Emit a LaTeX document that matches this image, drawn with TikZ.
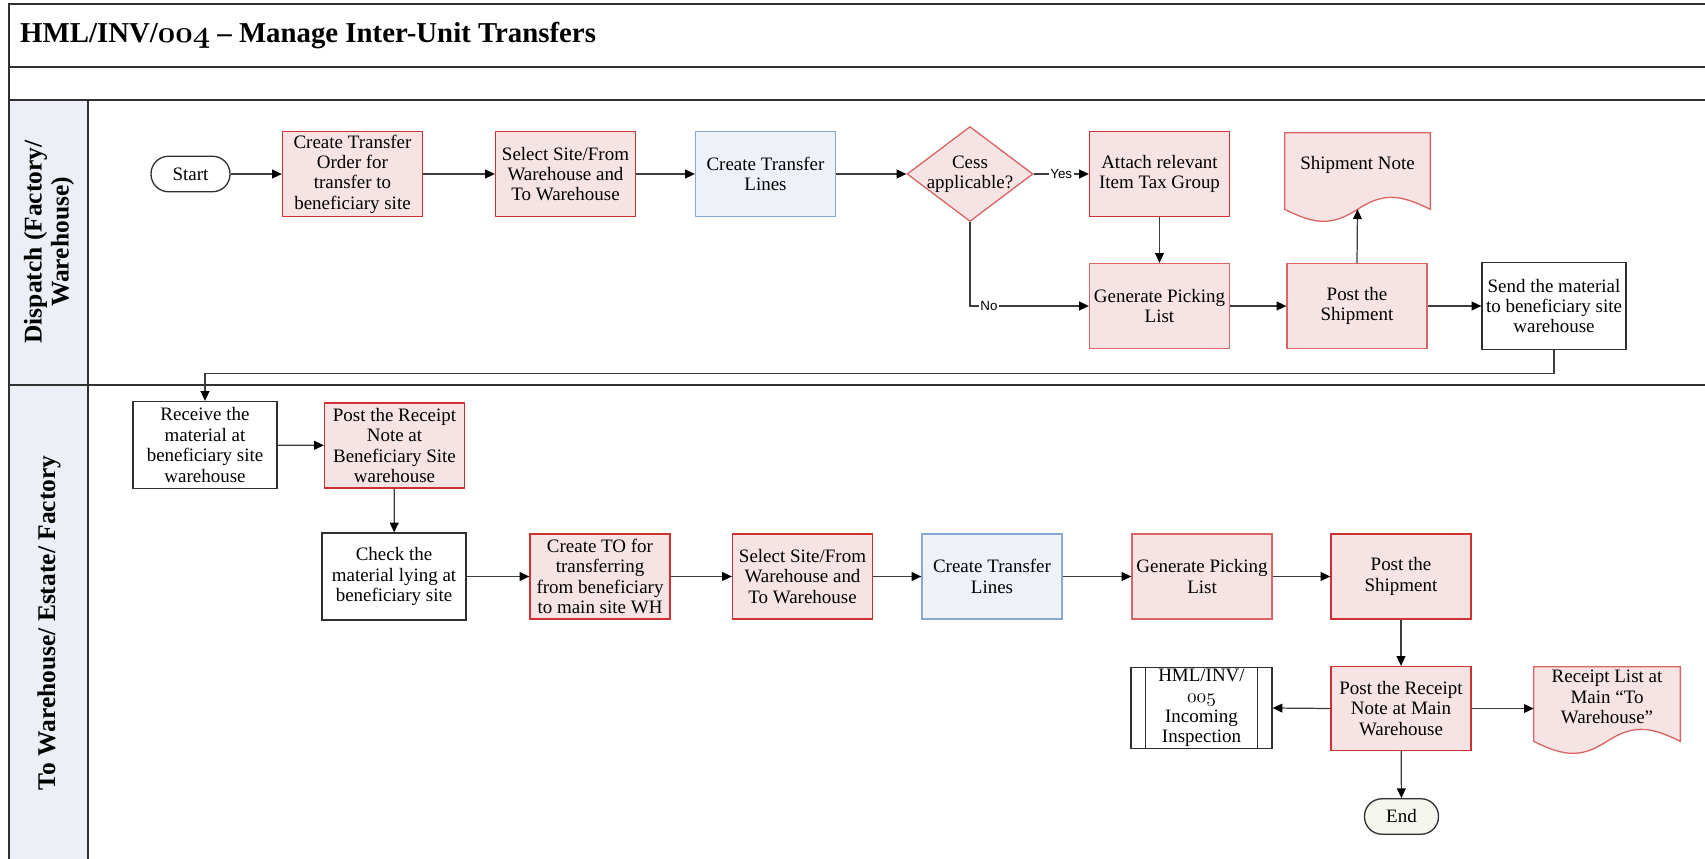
\documentclass[tikz,border=0pt]{standalone}
\usepackage{fontspec}
\setmainfont{Liberation Serif}
\newfontfamily\labelsans{Liberation Sans}
\usetikzlibrary{arrows.meta,shapes.geometric,calc,backgrounds}

% old-style figures for the document codes
\newcommand\osn[1]{{\usefont{OML}{cmm}{m}{it}#1}}
\newcommand\osnb[1]{{\usefont{OML}{cmm}{b}{it}#1}}

\definecolor{rdark}{HTML}{CF3030}
\definecolor{rsoft}{HTML}{D96565}
\definecolor{rfill}{HTML}{F6E4E4}
\definecolor{bdraw}{HTML}{86A8D4}
\definecolor{bfill}{HTML}{EEF2F8}
\definecolor{lanefill}{HTML}{ECEFF5}
\definecolor{framecol}{HTML}{303030}
\definecolor{linecol}{HTML}{3C3C3C}
\definecolor{endfill}{HTML}{F5F6EE}

\begin{document}
\begin{tikzpicture}[x=0.02cm,y=-0.02cm,
  nodefont/.style={font=\fontsize{10.8}{11.6}\selectfont},
  base/.style={nodefont, align=center, inner sep=0pt, line width=0.75pt},
  redbox/.style={base, draw=rdark, fill=rfill, minimum width=2.8cm, minimum height=1.7cm},
  redsoft/.style={redbox, draw=rsoft},
  bluebox/.style={base, draw=bdraw, fill=bfill, minimum width=2.8cm, minimum height=1.7cm},
  plainbox/.style={base, draw=framecol, fill=white, minimum width=2.88cm, minimum height=1.74cm},
  terminal/.style={base, draw=framecol, rounded corners=0.35cm, minimum height=0.71cm},
  decision/.style={diamond, draw=rsoft, fill=rfill, line width=0.75pt, inner sep=0pt,
                   minimum width=2.52cm, minimum height=1.9cm},
  docnode/.style={inner sep=0pt, draw=none},
  docline/.style={draw=rsoft, fill=rfill, line width=0.75pt},
  subproc/.style={base, draw=framecol, fill=white, minimum width=2.82cm, minimum height=1.62cm},
  frame/.style={draw=framecol, line width=1pt},
  arr/.style={draw=linecol, line width=0.7pt, -{Triangle[length=5.5pt,width=5pt,color=black]}},
  flowlabel/.style={font=\labelsans\fontsize{7.6}{8}\selectfont, fill=white, inner sep=1pt},
  lanefont/.style={font=\fontsize{14.5}{15.3}\selectfont\bfseries, align=center, rotate=90}
]
\useasboundingbox (0,0) rectangle (1705,859);

% swimlane frame
\fill[lanefill] (9,100) rectangle (88,859);
\draw[frame] (1705,4) -- (9,4) -- (9,859);
\draw[frame] (9,67) -- (1705,67);
\draw[frame] (9,100) -- (1705,100);
\draw[frame] (9,385) -- (1705,385);
\draw[frame] (88,100) -- (88,859);

\node[anchor=west, font=\fontsize{16.4}{20}\selectfont\bfseries] (title) at (14,36)
  {HML/INV/\osnb{004} -- Manage Inter-Unit Transfers};

\node[lanefont] (lane1) at (49,242) {Dispatch (Factory/\\Warehouse)};
\node[lanefont] (lane2) at (49,623) {To Warehouse/ Estate/ Factory};

% dispatch lane
\node[terminal, fill=white, minimum width=1.58cm] (start) at (190.5,174) {Start};
\node[redbox] (cto) at (352.5,174) {Create Transfer\\Order for\\transfer to\\beneficiary site};
\node[redbox] (sel1) at (565.5,174) {Select Site/From\\Warehouse and\\To Warehouse};
\node[bluebox] (ctl1) at (765.5,174) {Create Transfer\\Lines};
\node[decision, label={[nodefont, align=center]center:Cess\\applicable?}] (cess) at (970,174) {};
\node[redbox] (att) at (1159.5,174) {Attach relevant\\Item Tax Group};
\node[redsoft] (gpl1) at (1159.5,306) {Generate Picking\\List};
\node[redsoft] (ps1) at (1357,306) {Post the\\Shipment};
\node[docnode, minimum width=2.9cm, minimum height=1.52cm,
      label={[nodefont, yshift=0.12cm]center:Shipment Note}] (sn) at (1357.5,171) {};
\node[plainbox] (send) at (1554,306) {Send the material\\to beneficiary site\\warehouse};

% receiving lane
\node[plainbox] (recv) at (205,445) {Receive the\\material at\\beneficiary site\\warehouse};
\node[redbox] (prb) at (394.5,445.5) {Post the Receipt\\Note at\\Beneficiary Site\\warehouse};
\node[plainbox] (chk) at (394,576.5) {Check the\\material lying at\\beneficiary site};
\node[redbox] (cto2) at (600,576.5) {Create TO for\\transferring\\from beneficiary\\to main site WH};
\node[redbox] (sel2) at (802.5,576.5) {Select Site/From\\Warehouse and\\To Warehouse};
\node[bluebox] (ctl2) at (992,576.5) {Create Transfer\\Lines};
\node[redsoft] (gpl2) at (1202,576.5) {Generate Picking\\List};
\node[redbox] (ps2) at (1401,576.5) {Post the\\Shipment};
\node[redbox, minimum height=1.68cm] (prm) at (1401,708.5) {Post the Receipt\\Note at Main\\Warehouse};
\node[subproc] (sub) at (1201.5,708) {HML/INV/\\\osn{005}\\Incoming\\Inspection};
\draw[framecol, line width=0.75pt] ([xshift=0.3cm]sub.north west) -- ([xshift=0.3cm]sub.south west);
\draw[framecol, line width=0.75pt] ([xshift=-0.3cm]sub.north east) -- ([xshift=-0.3cm]sub.south east);
\node[docnode, minimum width=2.92cm, minimum height=1.48cm,
      label={[nodefont, align=center, yshift=0.14cm]center:Receipt List at\\Main “To\\Warehouse”}] (rl) at (1607,704) {};
\node[terminal, fill=endfill, minimum width=1.48cm] (end) at (1401.5,816.5) {End};

% document outlines with wavy bottom edge
\begin{pgfonlayer}{background}
\foreach \d in {sn,rl}{
  \draw[docline] (\d.north west) -- (\d.north east) -- (\d.south east)
    .. controls ($(\d.south east)+(-32,-16)$) and ($(\d.south)+(25,-16)$) .. (\d.south)
    .. controls ($(\d.south)+(-25,16)$) and ($(\d.south west)+(32,16)$) .. (\d.south west) -- cycle;
}
\end{pgfonlayer}

% connectors, dispatch lane
\draw[arr] (start) -- (cto);
\draw[arr] (cto) -- (sel1);
\draw[arr] (sel1) -- (ctl1);
\draw[arr] (ctl1) -- (cess);
\draw[arr] (cess.east) -- node[flowlabel] (yes) {Yes} (att.west);
\draw[arr] (cess.south) |- node[flowlabel, pos=0.58] (no) {No} (gpl1.west);
\draw[arr] (att) -- (gpl1);
\draw[arr] (gpl1) -- (ps1);
\draw[arr] (ps1.north) -- (sn.south);
\draw[arr] (ps1) -- (send);
\draw[arr] (send.south) -- ++(0,23) -| (recv.north);

% connectors, receiving lane
\draw[arr] (recv) -- (prb);
\draw[arr] (prb) -- (chk);
\draw[arr] (chk) -- (cto2);
\draw[arr] (cto2) -- (sel2);
\draw[arr] (sel2) -- (ctl2);
\draw[arr] (ctl2) -- (gpl2);
\draw[arr] (gpl2) -- (ps2);
\draw[arr] (ps2) -- (prm);
\draw[arr] (prm.west) -- (sub.east);
\draw[arr] (prm.east) -- (rl.west |- prm.east);
\draw[arr] (prm) -- (end);
\end{tikzpicture}
\end{document}
